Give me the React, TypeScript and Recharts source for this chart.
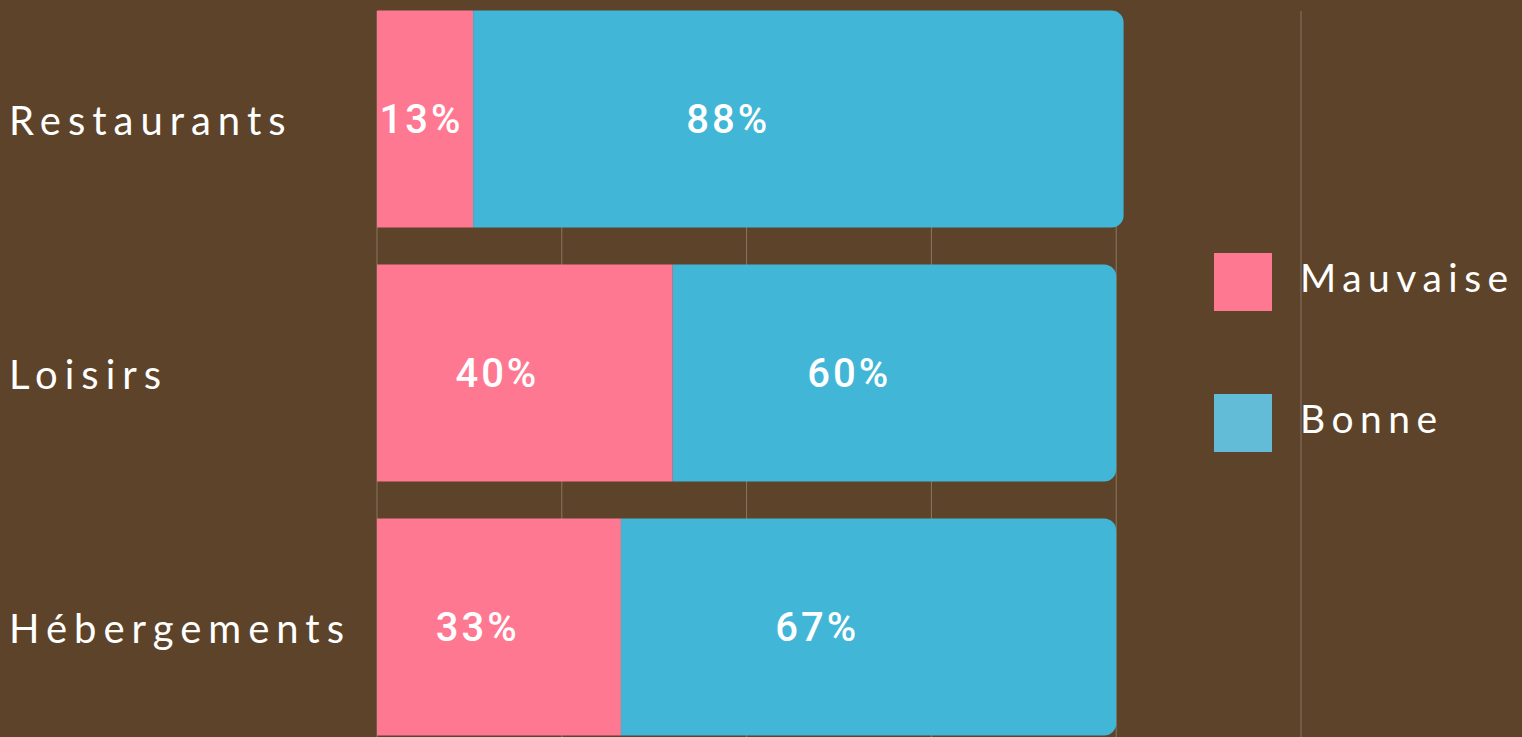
import React from 'react';
import {
  BarChart,
  Bar,
  XAxis,
  YAxis,
  CartesianGrid,
  LabelList,
} from 'recharts';

const categories = ['Restaurants', 'Loisirs', 'Hébergements'];
const mauvaise = [13, 40, 33];
const bonne = [88, 60, 67];
const xTicks = [0, 25, 50, 75, 100, 125];
const seriesNames = ['Mauvaise', 'Bonne'];

const BG = '#5d4329';
const PINK = '#ff7891';
const BLUE = '#41b6d6';
const legendColors: Record<string, string> = { Mauvaise: PINK, Bonne: '#62bcd8' };

const data = categories.map((name, i) => ({
  name,
  Mauvaise: mauvaise[i],
  Bonne: bonne[i],
}));

const TITLE_FONT = 'Lato, "Open Sans", sans-serif';

// categorie a gauche, alignee sur le bord
const CategoryTick = (props: any) => {
  const { y, payload } = props;
  return (
    <text
      x={9}
      y={y}
      dy={16}
      fill="#ffffff"
      fontFamily={TITLE_FONT}
      fontSize={40}
      letterSpacing={7}
      textAnchor="start"
    >
      {payload.value}
    </text>
  );
};

const PercentLabel = (props: any) => {
  const { x, y, width, height, value } = props;
  return (
    <text
      x={x + 8 + width * 0.38}
      y={y + height / 2}
      fill="#ffffff"
      fontFamily="Roboto, sans-serif"
      fontWeight={500}
      fontSize={40}
      letterSpacing={3}
      textAnchor="middle"
      dominantBaseline="central"
    >
      {value}%
    </text>
  );
};

// legende a droite, hors du graphique
const SideLegend = () => (
  <div style={{ position: 'absolute', left: 1214, top: 253 }}>
    {seriesNames.map((name) => (
      <svg key={name} width={310} height={141} style={{ display: 'block' }}>
        <rect x={0} y={0} width={58} height={58} fill={legendColors[name]} />
        <text
          x={86}
          y={39}
          fill="#ffffff"
          fontFamily={TITLE_FONT}
          fontSize={39}
          letterSpacing={6.5}
        >
          {name}
        </text>
      </svg>
    ))}
  </div>
);

export default function App() {
  return (
    <div
      style={{
        position: 'absolute',
        left: 0,
        top: 0,
        width: 1522,
        height: 737,
        overflow: 'hidden',
        background: BG,
      }}
    >
      <div style={{ marginTop: -8 }}>
        <BarChart
          width={1522}
          height={762}
          data={data}
          layout="vertical"
          margin={{ top: 0, right: 221, bottom: 0, left: 0 }}
          barCategoryGap={18.5}
        >
          <CartesianGrid
            horizontal={false}
            stroke="rgba(255,255,255,0.28)"
            y={19}
            height={730}
          />
          <XAxis type="number" domain={[0, 125]} ticks={xTicks} hide />
          <YAxis
            type="category"
            dataKey="name"
            width={377}
            axisLine={false}
            tickLine={false}
            tick={<CategoryTick />}
          />
          <Bar dataKey="Mauvaise" stackId="a" fill={PINK} isAnimationActive={false}>
            <LabelList dataKey="Mauvaise" content={<PercentLabel />} />
          </Bar>
          <Bar
            dataKey="Bonne"
            stackId="a"
            fill={BLUE}
            radius={[0, 12, 12, 0]}
            isAnimationActive={false}
          >
            <LabelList dataKey="Bonne" content={<PercentLabel />} />
          </Bar>
        </BarChart>
      </div>
      <SideLegend />
    </div>
  );
}
